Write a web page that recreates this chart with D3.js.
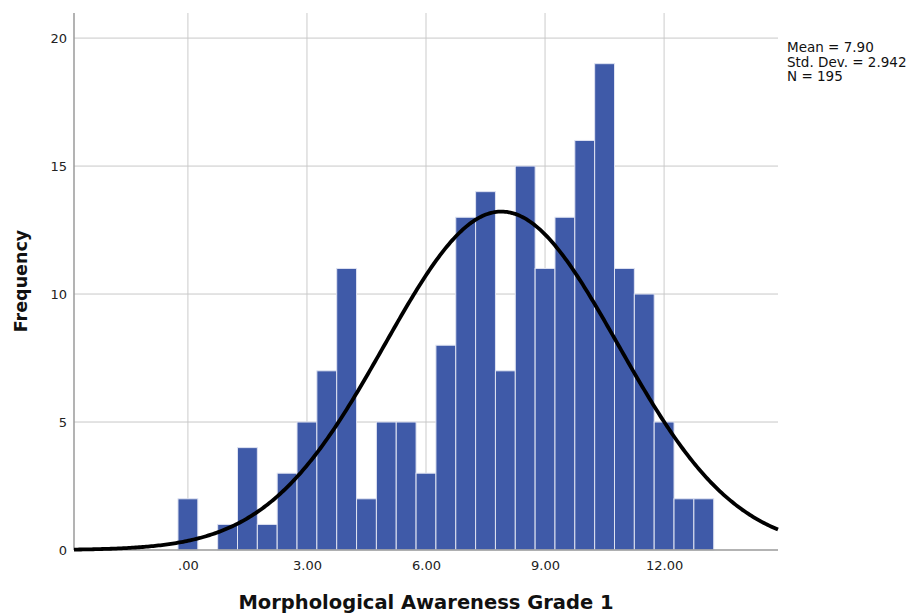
<!DOCTYPE html>
<html>
<head>
<meta charset="utf-8">
<script src="https://cdn.jsdelivr.net/npm/d3@7"></script>
<style>
  body { margin: 0; background: #fff; }
  svg { display: block; font-family: "DejaVu Sans", sans-serif; }
</style>
</head>
<body>
<div id="chart"></div>
<script>
// bin midpoints (bin width 0.5) and counts
const binCenters = [0, 0.5, 1, 1.5, 2, 2.5, 3, 3.5, 4, 4.5, 5, 5.5, 6, 6.5, 7, 7.5, 8, 8.5, 9, 9.5, 10, 10.5, 11, 11.5, 12, 12.5, 13];
const counts = [2, 0, 1, 4, 1, 3, 5, 7, 11, 2, 5, 5, 3, 8, 13, 14, 7, 15, 11, 13, 16, 19, 11, 10, 5, 2, 2];
const xTicks = [0, 3, 6, 9, 12];
const yTicks = [0, 5, 10, 15, 20];
const stats = { mean: 7.90, sd: 2.942, n: 195 };
const binWidth = 0.5;

const W = 909, H = 615;
const M = { top: 13, right: 131, bottom: 65, left: 74 };
const iw = W - M.left - M.right;
const ih = H - M.top - M.bottom;

const svg = d3.select("#chart").append("svg")
	.attr("width", W)
	.attr("height", H);

const g = svg.append("g")
	.attr("transform", `translate(${M.left},${M.top})`);

const x = d3.scaleLinear().domain([-2.87, 14.87]).range([0, iw]);
const y = d3.scaleLinear().domain([0, 20.98]).range([ih, 0]);

// grid
g.selectAll(".vgrid")
	.data(xTicks)
	.join("line")
	.attr("x1", d => x(d)).attr("x2", d => x(d))
	.attr("y1", 0).attr("y2", ih)
	.attr("stroke", "#d4d4d4")
	.attr("stroke-width", 1.2);

g.selectAll(".hgrid")
	.data(yTicks.filter(d => d > 0))
	.join("line")
	.attr("x1", 0).attr("x2", iw)
	.attr("y1", d => y(d)).attr("y2", d => y(d))
	.attr("stroke", "#c8c8c8")
	.attr("stroke-width", 1);

// bars
const data = binCenters.map((c, i) => ({ c, v: counts[i] })).filter(d => d.v > 0);
g.selectAll(".bar")
	.data(data)
	.join("rect")
	.attr("class", "bar")
	.attr("x", d => x(d.c - binWidth / 2))
	.attr("width", d => x(d.c + binWidth / 2) - x(d.c - binWidth / 2))
	.attr("y", d => y(d.v))
	.attr("height", d => ih - y(d.v))
	.attr("fill", "#3f5aa8")
	.attr("stroke", "#dfe3f2")
	.attr("stroke-width", 1);

// axes lines
g.append("line")
	.attr("x1", 0).attr("x2", 0).attr("y1", 0).attr("y2", ih)
	.attr("stroke", "#9a9a9a").attr("stroke-width", 1.5);
g.append("line")
	.attr("x1", 0).attr("x2", iw).attr("y1", ih).attr("y2", ih)
	.attr("stroke", "#9a9a9a").attr("stroke-width", 1.5);

// tick labels
const xAxis = g.append("g")
	.attr("transform", `translate(0,${ih})`)
	.call(d3.axisBottom(x).tickValues(xTicks).tickSize(0).tickPadding(11)
		.tickFormat(d => d === 0 ? ".00" : d3.format(".2f")(d)));
xAxis.select(".domain").remove();
xAxis.selectAll("text")
	.style("font-family", "DejaVu Sans, sans-serif")
	.style("font-size", "13px")
	.style("fill", "#222");

const yAxis = g.append("g")
	.call(d3.axisLeft(y).tickValues(yTicks).tickSize(0).tickPadding(7));
yAxis.select(".domain").remove();
yAxis.selectAll("text")
	.style("font-family", "DejaVu Sans, sans-serif")
	.style("font-size", "13px")
	.style("fill", "#222");

// normal curve
const scale = stats.n * binWidth / (stats.sd * Math.sqrt(2 * Math.PI));
const curve = d3.range(0, 401).map(i => {
	const xv = x.domain()[0] + (x.domain()[1] - x.domain()[0]) * i / 400;
	const z = (xv - stats.mean) / stats.sd;
	return [xv, scale * Math.exp(-0.5 * z * z)];
});
g.append("path")
	.datum(curve)
	.attr("fill", "none")
	.attr("stroke", "#000")
	.attr("stroke-width", 3.8)
	.attr("d", d3.line().x(d => x(d[0])).y(d => y(d[1])));

// axis titles
svg.append("text")
	.attr("x", M.left + iw / 2)
	.attr("y", 609)
	.attr("text-anchor", "middle")
	.style("font-size", "19.5px")
	.style("font-weight", "bold")
	.style("fill", "#111")
	.text("Morphological Awareness Grade 1");

svg.append("text")
	.attr("transform", `translate(27,281) rotate(-90)`)
	.attr("text-anchor", "middle")
	.style("font-size", "17.5px")
	.style("font-weight", "bold")
	.style("fill", "#111")
	.text("Frequency");

// stats box
const statLines = [
	`Mean = ${stats.mean.toFixed(2)}`,
	`Std. Dev. = ${stats.sd.toFixed(3)}`,
	`N = ${stats.n}`
];
svg.append("g")
	.selectAll("text")
	.data(statLines)
	.join("text")
	.attr("x", 787)
	.attr("y", (d, i) => 52 + i * 14.5)
	.style("font-size", "13.5px")
	.style("fill", "#111")
	.text(d => d);
</script>
</body>
</html>
